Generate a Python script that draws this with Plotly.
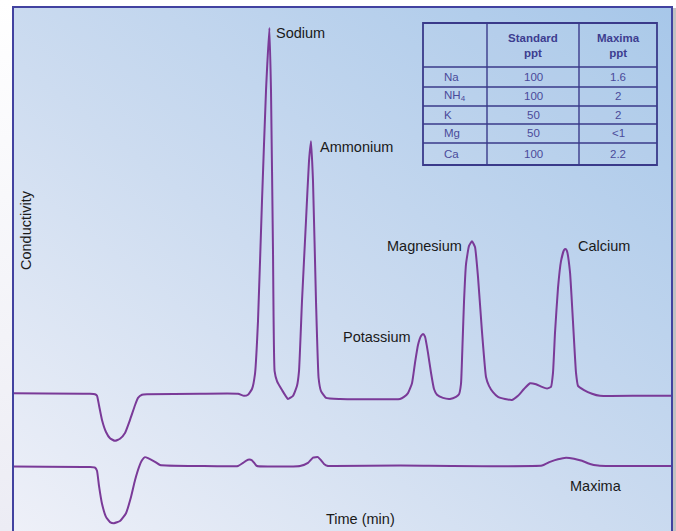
import base64
import plotly.graph_objects as go

# ---------------- data ----------------
# Main chromatogram (standard): time (min), conductivity (arb. units)
std_time = [0.0, 3.85, 4.1, 4.2, 4.3, 4.45, 4.65, 4.85, 5.1, 5.35, 5.6, 5.85, 6.1, 6.25, 6.45, 6.7,
            9.35, 11.25, 11.55, 11.75, 11.95, 12.1, 12.25, 12.45, 12.65, 12.82, 12.9, 13.0, 13.08,
            13.2, 13.45, 13.75, 14.0, 14.2, 14.3, 14.45, 14.65, 14.8, 14.9, 15.0, 15.15, 15.28,
            15.4, 15.65, 16.35, 19.35, 19.55, 19.75, 19.95, 20.1, 20.25, 20.4, 20.5, 20.6, 20.75,
            20.9, 21.05, 21.2, 21.5, 21.85, 22.15, 22.3, 22.4, 22.48, 22.55, 22.65, 22.8, 22.95,
            23.1, 23.25, 23.45, 23.65, 23.8, 24.0, 24.25, 24.6, 24.95, 25.25, 25.55, 25.85, 26.15,
            26.45, 26.7, 26.9, 27.0, 27.1, 27.25, 27.4, 27.55, 27.63, 27.7, 27.85, 28.0, 28.15,
            28.25, 28.55, 28.95, 29.35, 31.35, 32.95]
std_cond = [26.3, 26.2, 26.1, 25.8, 24.0, 21.2, 18.9, 17.7, 17.2, 17.6, 18.7, 21.2, 24.0, 25.4,
            26.0, 26.1, 26.2, 26.2, 25.8, 26.0, 27.1, 30.0, 40.1, 63.0, 84.0, 96.0, 84.0, 53.4,
            30.5, 28.6, 26.9, 25.2, 25.8, 27.7, 30.5, 43.9, 59.2, 70.6, 74.4, 66.8, 43.9, 29.2,
            26.7, 25.4, 25.2, 25.2, 25.6, 26.3, 28.2, 32.1, 35.5, 37.2, 37.6, 37.1, 34.0, 30.2,
            27.1, 26.0, 25.4, 25.2, 25.6, 26.1, 28.1, 36.1, 43.7, 50.9, 54.4, 55.3, 54.2, 48.5,
            38.0, 29.4, 27.7, 26.5, 25.6, 25.2, 25.0, 25.8, 27.1, 28.2, 28.0, 27.5, 27.2, 27.5,
            30.2, 37.8, 46.4, 51.5, 53.6, 53.8, 53.4, 49.4, 39.9, 30.2, 27.7, 26.9, 26.2, 25.8,
            25.8, 25.8]

# Lower chromatogram (Maxima sample)
max_time = [0.0, 3.85, 4.1, 4.2, 4.3, 4.45, 4.65, 4.85, 5.05, 5.35, 5.65, 5.9, 6.1, 6.3, 6.45,
            6.6, 6.75, 7.1, 7.35, 9.35, 11.25, 11.5, 11.75, 11.95, 12.1, 12.2, 14.35, 14.75,
            15.0, 15.25, 15.4, 15.55, 15.75, 16.05, 19.35, 26.45, 26.85, 27.25, 27.65, 28.05,
            28.45, 28.85, 29.25, 29.85, 32.95]
max_cond = [12.3, 12.2, 12.1, 11.5, 8.6, 5.2, 2.7, 1.7, 1.5, 1.9, 3.4, 6.5, 9.7, 12.2, 13.5,
            14.1, 13.9, 13.2, 12.6, 12.4, 12.4, 13.0, 13.6, 13.5, 12.8, 12.4, 12.4, 13.0, 14.0,
            14.1, 13.5, 12.8, 12.4, 12.4, 12.5, 12.5, 13.2, 13.7, 14.0, 13.8, 13.4, 12.8, 12.5,
            12.4, 12.4]

peak_names = ["Sodium", "Ammonium", "Potassium", "Magnesium", "Calcium"]
peak_time = [13.05, 15.25, 20.0, 22.55, 28.15]
peak_cond = [95.0, 73.3, 37.0, 54.4, 54.4]
peak_side = ["left", "left", "right", "right", "left"]

table_ions = ["Na", "NH<sub>4</sub>", "K", "Mg", "Ca"]
table_standard = ["100", "100", "50", "50", "100"]
table_maxima = ["1.6", "2", "2", "<1", "2.2"]
table_headers = ["Standard<br>ppt", "Maxima<br>ppt"]

# ---------------- layout helpers ----------------
W, H = 676, 531
ML, MR, MT, MB = 13, 4, 7, 0
PW, PH = W - ML - MR, H - MT - MB


def px(xp):
    return (xp - ML) / PW


def py(yp):
    return 1 - (yp - MT) / PH


LINE = "#7a3a98"
TXT = "#1a1a1a"
TB = "#3a3a8a"
FONT = "Liberation Sans, Arial, sans-serif"

fig = go.Figure()
fig.add_trace(go.Scatter(x=std_time, y=std_cond, mode="lines",
                         line=dict(color=LINE, width=2, shape="spline", smoothing=0.4),
                         hoverinfo="skip", showlegend=False))
fig.add_trace(go.Scatter(x=max_time, y=max_cond, mode="lines",
                         line=dict(color=LINE, width=2, shape="spline", smoothing=0.4),
                         hoverinfo="skip", showlegend=False))

ann = []
for n, t, c, s in zip(peak_names, peak_time, peak_cond, peak_side):
    ann.append(dict(x=t, y=c, xref="x", yref="y", text=n, showarrow=False,
                    xanchor=s, yanchor="middle", font=dict(size=14.5, color=TXT, family=FONT)))
ann.append(dict(x=27.75, y=8.6, xref="x", yref="y", text="Maxima", showarrow=False,
                xanchor="left", yanchor="middle", font=dict(size=14.5, color=TXT, family=FONT)))
ann.append(dict(x=px(360), y=py(519), xref="paper", yref="paper", text="Time (min)",
                showarrow=False, xanchor="center", yanchor="middle",
                font=dict(size=14.5, color=TXT, family=FONT)))
ann.append(dict(x=px(26), y=py(230), xref="paper", yref="paper", text="Conductivity",
                showarrow=False, textangle=-90, xanchor="center", yanchor="middle",
                font=dict(size=14.5, color=TXT, family=FONT)))

# ---------------- table ----------------
tx0, tx1 = 423, 657
ty0, ty1 = 23, 165
col_x = [487, 579]
row_y = [67, 87, 106, 124, 143]
shapes = []
shapes.append(dict(type="rect", xref="paper", yref="paper", x0=px(tx0), x1=px(tx1),
                   y0=py(ty1), y1=py(ty0), line=dict(color=TB, width=1.8),
                   fillcolor="rgba(255,255,255,0.04)", layer="above"))
for cx in col_x:
    shapes.append(dict(type="line", xref="paper", yref="paper", x0=px(cx), x1=px(cx),
                       y0=py(ty1), y1=py(ty0), line=dict(color=TB, width=1.4)))
for ry in row_y:
    shapes.append(dict(type="line", xref="paper", yref="paper", x0=px(tx0), x1=px(tx1),
                       y0=py(ry), y1=py(ry), line=dict(color=TB, width=1.4)))

col_centers = [(col_x[0] + col_x[1]) / 2, (col_x[1] + tx1) / 2]
for h, cx in zip(table_headers, col_centers):
    ann.append(dict(x=px(cx), y=py(45.5), xref="paper", yref="paper", text="<b>%s</b>" % h,
                    showarrow=False, xanchor="center", yanchor="middle",
                    font=dict(size=11.5, color="#3d3d90", family=FONT)))
row_centers = [(row_y[i] + (row_y[i + 1] if i + 1 < len(row_y) else ty1)) / 2
               for i in range(len(row_y))]
for ion, sv, mv, ry in zip(table_ions, table_standard, table_maxima, row_centers):
    ann.append(dict(x=px(442), y=py(ry), xref="paper", yref="paper", text=ion,
                    showarrow=False, xanchor="left", yanchor="middle",
                    font=dict(size=11.5, color="#4a4a9a", family=FONT)))
    ann.append(dict(x=px(col_centers[0]), y=py(ry), xref="paper", yref="paper", text=sv,
                    showarrow=False, xanchor="center", yanchor="middle",
                    font=dict(size=11.5, color="#4a4a9a", family=FONT)))
    ann.append(dict(x=px(col_centers[1]), y=py(ry), xref="paper", yref="paper", text=mv,
                    showarrow=False, xanchor="center", yanchor="middle",
                    font=dict(size=11.5, color="#4a4a9a", family=FONT)))

# frame (left, top, right; bottom is cut off)
shapes.append(dict(type="rect", xref="paper", yref="paper", x0=0, x1=1, y0=-0.1, y1=1,
                   line=dict(color="#4242a0", width=2), layer="above"))
# right drop shadow
shapes.append(dict(type="rect", xref="paper", yref="paper", x0=px(673), x1=px(676.5),
                   y0=-0.1, y1=py(8), line=dict(width=0), fillcolor="rgba(120,120,120,0.45)"))

# background gradient
svg = ("<svg xmlns='http://www.w3.org/2000/svg' width='659' height='524' preserveAspectRatio='none'>"
       "<defs><linearGradient id='g' x1='0' y1='1' x2='1' y2='0'>"
       "<stop offset='0' stop-color='#eef0f8'/>"
       "<stop offset='0.45' stop-color='#cddcf0'/>"
       "<stop offset='1' stop-color='#a7c7e9'/>"
       "</linearGradient></defs><rect width='659' height='524' fill='url(#g)'/></svg>")
src = "data:image/svg+xml;base64," + base64.b64encode(svg.encode()).decode()
outer = ("<svg xmlns='http://www.w3.org/2000/svg' width='20' height='531' preserveAspectRatio='none'>"
         "<defs><linearGradient id='h' x1='0' y1='0' x2='0' y2='1'>"
         "<stop offset='0' stop-color='#ffffff'/><stop offset='1' stop-color='#ececf4'/>"
         "</linearGradient></defs><rect width='20' height='531' fill='url(#h)'/></svg>")
src2 = "data:image/svg+xml;base64," + base64.b64encode(outer.encode()).decode()

fig.update_layout(
    width=W, height=H,
    margin=dict(l=ML, r=MR, t=MT, b=MB),
    paper_bgcolor="white",
    plot_bgcolor="rgba(0,0,0,0)",
    xaxis=dict(range=[0, 32.95], visible=False, fixedrange=True),
    yaxis=dict(range=[0, 100], visible=False, fixedrange=True),
    images=[dict(source=src, xref="paper", yref="paper", x=0, y=1, sizex=1, sizey=1,
                 sizing="stretch", layer="below", xanchor="left", yanchor="top"),
            dict(source=src2, xref="paper", yref="paper", x=px(0), y=py(0), sizex=px(12) - px(0),
                 sizey=1 + (MT / PH), sizing="stretch", layer="below", xanchor="left",
                 yanchor="top")],
    annotations=ann,
    shapes=shapes,
    showlegend=False,
    hovermode=False,
)

fig.write_html("out.html",
               config={"displayModeBar": False, "staticPlot": True},
               post_script="document.body.style.margin='0';document.body.style.padding='0';"
                           "document.body.style.overflow='hidden';")
